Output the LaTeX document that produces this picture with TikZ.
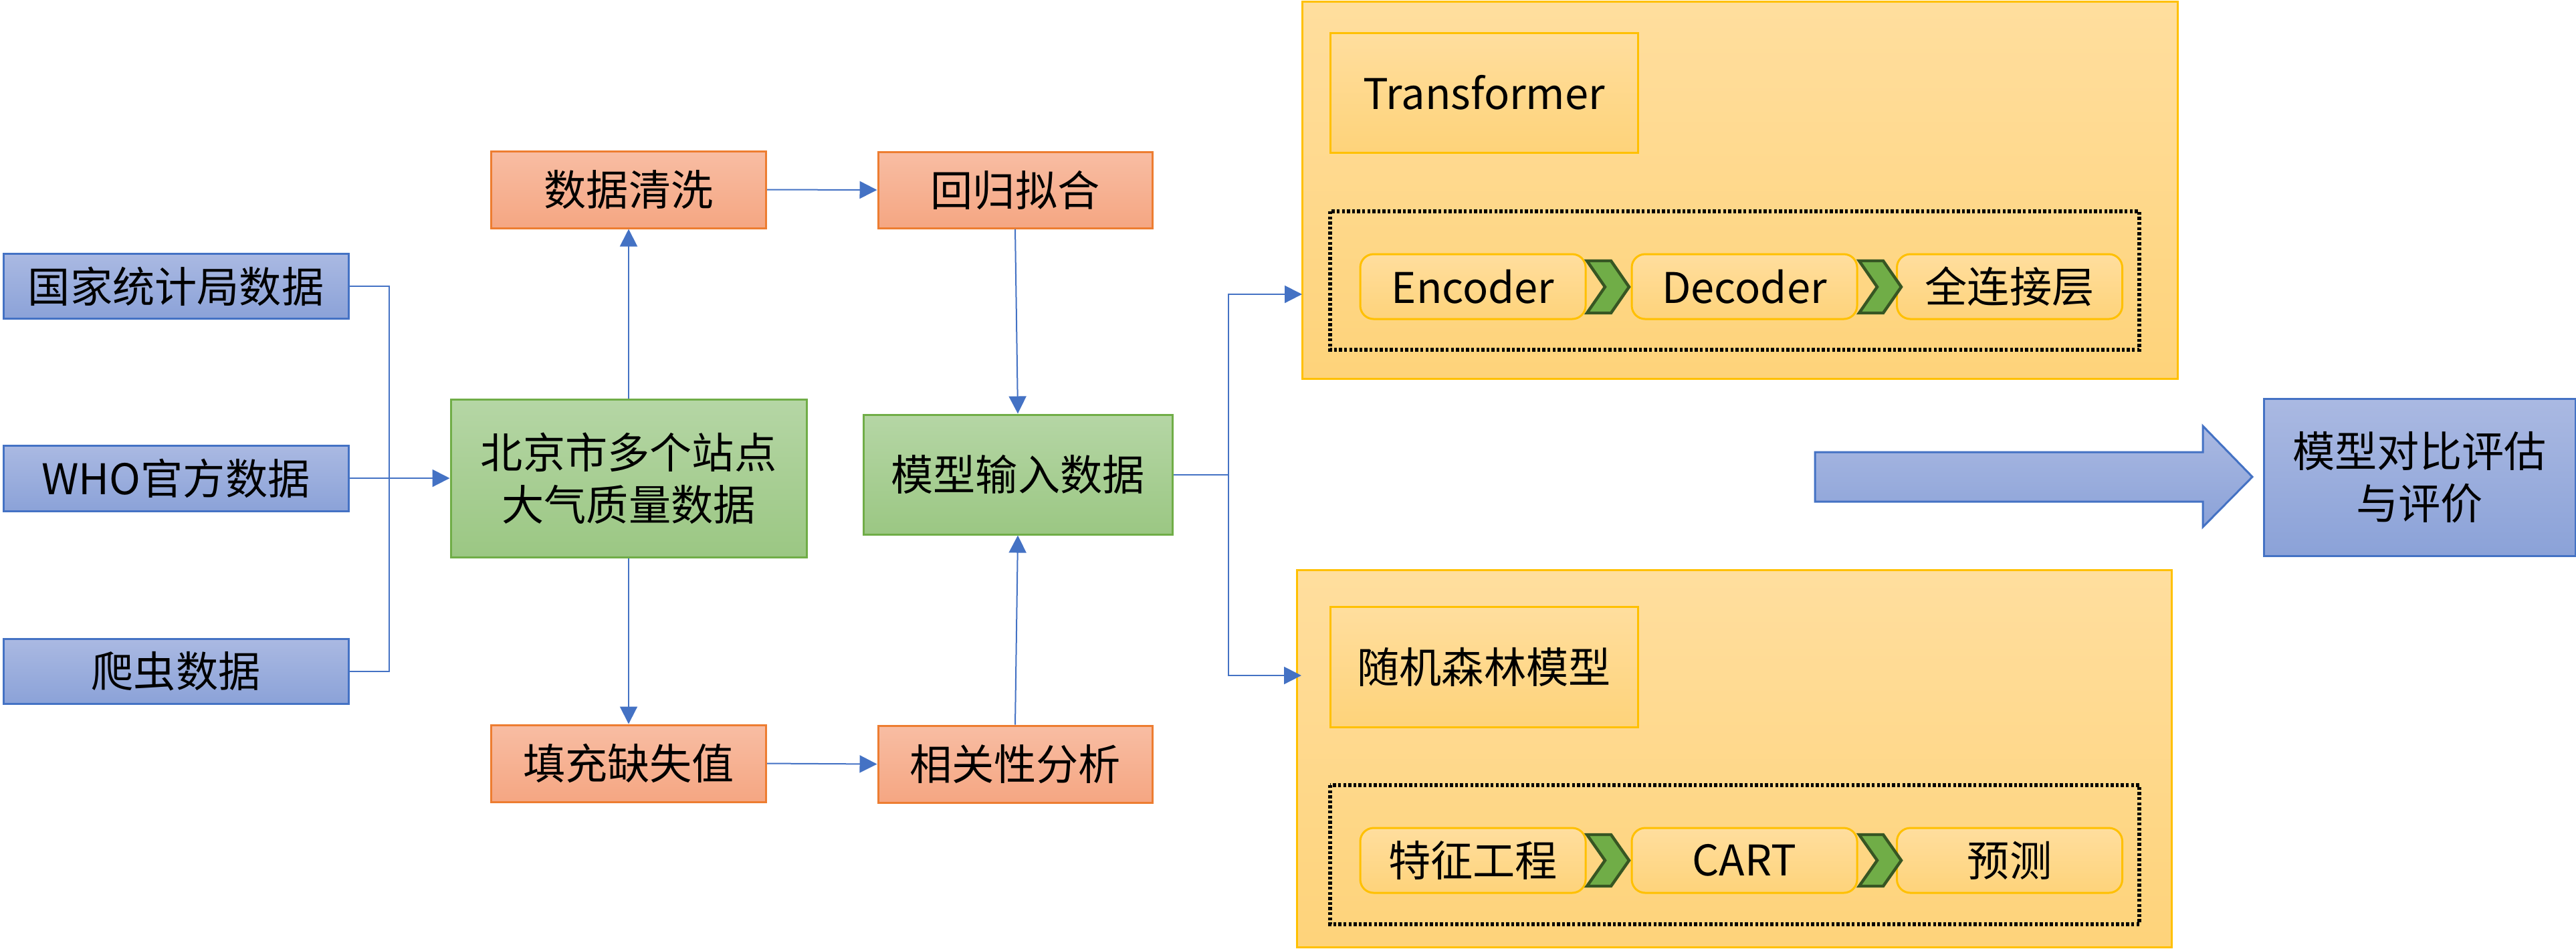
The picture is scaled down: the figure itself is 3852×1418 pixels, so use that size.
\documentclass[tikz,border=0pt]{standalone}
\usepackage{fontspec}
\newfontfamily\cjk{Noto Sans CJK SC}
\usetikzlibrary{arrows.meta}
\definecolor{bluetop}{HTML}{AAB9E2}
\definecolor{bluebot}{HTML}{8BA2D8}
\definecolor{blueline}{HTML}{4472C4}
\definecolor{greentop}{HTML}{B5D6A5}
\definecolor{greenbot}{HTML}{9BC783}
\definecolor{greenline}{HTML}{70AD47}
\definecolor{orangetop}{HTML}{F8BDA3}
\definecolor{orangebot}{HTML}{F5A682}
\definecolor{orangeline}{HTML}{ED7D31}
\definecolor{yeltop}{HTML}{FFDE9E}
\definecolor{yelbot}{HTML}{FED37A}
\definecolor{yelline}{HTML}{FFC000}
\definecolor{chevfill}{HTML}{70AD47}
\definecolor{chevline}{HTML}{375623}
\tikzset{
  txt/.style={font=\cjk\fontsize{15.8}{19.5}\selectfont, text=black, inner sep=0pt, align=center},
  bluebox/.style={txt, draw=blueline, line width=0.75pt, top color=bluetop, bottom color=bluebot},
  greenbox/.style={txt, draw=greenline, line width=0.75pt, top color=greentop, bottom color=greenbot},
  orangebox/.style={txt, draw=orangeline, line width=0.75pt, top color=orangetop, bottom color=orangebot},
  yelbox/.style={txt, draw=yelline, line width=0.75pt, top color=yeltop, bottom color=yelbot},
  pill/.style={yelbox, rounded corners=5pt, minimum width=84.25pt, minimum height=24.25pt},
  conn/.style={draw=blueline, line width=0.5pt},
  arr/.style={conn, -{Triangle[length=6.5pt,width=6.5pt]}},
  dotbox/.style={draw=black, line width=1.4pt, dash pattern=on 1.1pt off 0.8pt},
  chevron/.style={fill=chevfill, draw=chevline, line width=1.1pt, line join=miter},
}
\newcommand\mychev[3]{%
  \path[chevron] (#1,#2) -- ++(36,0) -- (#1+63,{(#2+#3)/2}) -- (#1+36,#3) -- (#1,#3) -- (#1+27,{(#2+#3)/2}) -- cycle;}
\begin{document}
\begin{tikzpicture}[x=0.25pt,y=-0.25pt]
\useasboundingbox (0,0) rectangle (3852,1418);
% left sources
\node[bluebox, minimum width=129pt, minimum height=24.25pt] (gj) at (263,428) {国家统计局数据};
\node[bluebox, minimum width=129pt, minimum height=24.5pt] (who) at (263,715) {WHO官方数据};
\node[bluebox, minimum width=129pt, minimum height=24.25pt] (pc) at (263,1004) {爬虫数据};
% central
\node[greenbox, minimum width=133pt, minimum height=59pt] (bj) at (940,715) {北京市多个站点\\大气质量数据};
\node[orangebox, minimum width=102.75pt, minimum height=28.75pt] (qx) at (940,283.5) {数据清洗};
\node[orangebox, minimum width=102.75pt, minimum height=28.75pt] (tc) at (940,1141.5) {填充缺失值};
\node[orangebox, minimum width=102.5pt, minimum height=28.5pt] (hg) at (1518,284) {回归拟合};
\node[orangebox, minimum width=102.5pt, minimum height=28.75pt] (xg) at (1518,1142.5) {相关性分析};
\node[greenbox, minimum width=115.5pt, minimum height=44.75pt] (mx) at (1522,709.5) {模型输入数据};
% containers
\node[yelbox, minimum width=327.25pt, minimum height=141pt] (c1) at (2601.5,284) {};
\node[yelbox, minimum width=327pt, minimum height=141pt] (c2) at (2593,1134.5) {};
\node[yelbox, minimum width=115pt, minimum height=44.75pt] (tf) at (2219,138.5) {Transformer};
\node[yelbox, minimum width=115pt, minimum height=45pt] (rf) at (2219,997) {随机森林模型};
\path[dotbox] (1989,316) rectangle (3199,523);
\path[dotbox] (1989,1174) rectangle (3199,1382);
\node[pill] (enc) at (2202.5,428.5) {Encoder};
\node[pill] (dec) at (2608.5,428.5) {Decoder};
\node[pill] (fc) at (3005,428.5) {全连接层};
\node[pill] (fe) at (2202.5,1286.5) {特征工程};
\node[pill] (cart) at (2608.5,1286.5) {CART};
\node[pill] (pred) at (3005,1286.5) {预测};
\mychev{2373}{390}{468}
\mychev{2780}{390}{468}
\mychev{2373}{1248}{1325}
\mychev{2780}{1248}{1325}
% evaluation
\path[draw=blueline, line width=0.75pt, top color=bluetop, bottom color=bluebot]
  (2714,676) -- (3294,676) -- (3294,637) -- (3368,713) -- (3294,788) -- (3294,750) -- (2714,750) -- cycle;
\node[bluebox, minimum width=116.5pt, minimum height=58.75pt] (ev) at (3618,713.5) {模型对比评估\\与评价};
% connectors
\coordinate (bus) at (582,715);
\draw[conn] (gj.east) -| (bus);
\draw[conn] (pc.east) -| (bus);
\draw[arr] (who.east) -- (bj.west);
\draw[arr] (bj.north) -- (qx.south);
\draw[arr] (bj.south) -- (tc.north);
\draw[arr] (qx.east) -- (hg.west);
\draw[arr] (tc.east) -- (xg.west);
\draw[arr] (hg.south) -- (mx.north);
\draw[arr] (xg.north) -- (mx.south);
\coordinate (br) at (1837,709.5);
\coordinate (in1) at (1947,440);
\coordinate (in2) at (1946,1010);
\draw[conn] (mx.east) -- (br);
\draw[arr] (br) |- (in1);
\draw[arr] (br) |- (in2);
\end{tikzpicture}
\end{document}
